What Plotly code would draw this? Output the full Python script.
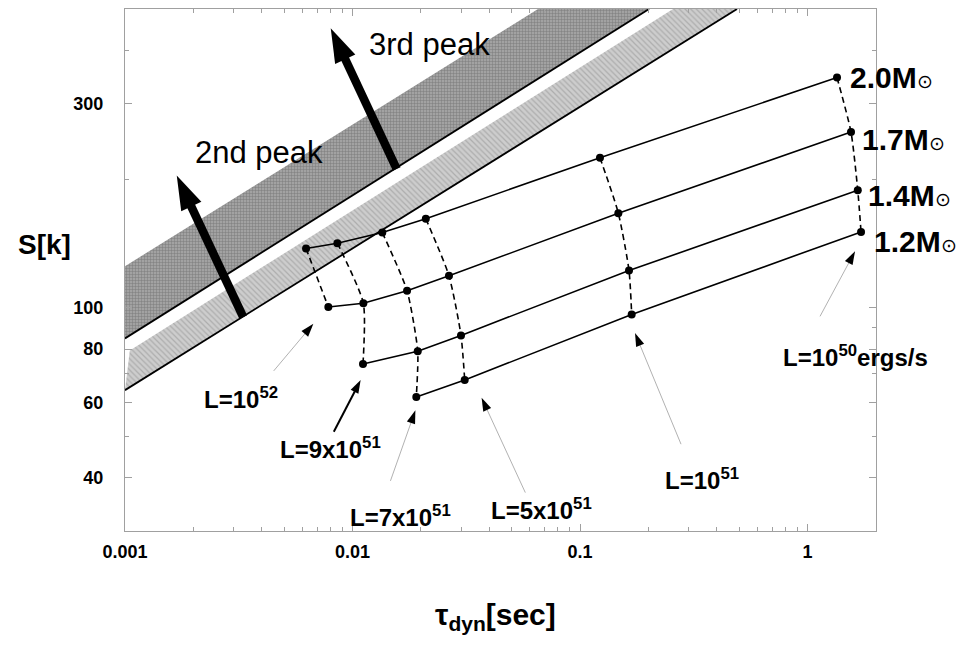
import math
import plotly.graph_objects as go

# ---------------- data ----------------
L_labels = ["L=10<sup>52</sup>", "L=9x10<sup>51</sup>", "L=7x10<sup>51</sup>",
            "L=5x10<sup>51</sup>", "L=10<sup>51</sup>", "L=10<sup>50</sup>ergs/s"]

mass_names = ["2.0M", "1.7M", "1.4M", "1.2M"]
# one entry per luminosity (None = no model)
tau_20 = [0.00625, 0.00858, 0.01352, 0.0210, 0.1224, 1.348]
S_20 = [137.5, 141.5, 149.9, 161.4, 224.4, 345.5]
tau_17 = [0.00783, 0.01116, 0.01737, 0.02655, 0.1474, 1.553]
S_17 = [100.3, 102.4, 109.5, 118.7, 166.3, 257.6]
tau_14 = [None, 0.01112, 0.01935, 0.02998, 0.1642, 1.663]
S_14 = [None, 73.8, 79.0, 86.1, 122.1, 188.2]
tau_12 = [None, None, 0.01907, 0.03113, 0.1687, 1.719]
S_12 = [None, None, 61.8, 67.7, 96.4, 150.4]

# shaded r-process regions (3rd peak = dark, 2nd peak = light)
band3_tau = [0.001, 0.0654, 0.2011, 0.001]
band3_S = [125.0, 500.0, 500.0, 84.7]
band2_tau = [0.00105, 0.2564, 0.49, 0.001]
band2_S = [79.4, 500.0, 500.0, 64.1]
edge3_tau = [0.001, 0.2011]
edge3_S = [84.7, 500.0]
edge2_tau = [0.001, 0.49]
edge2_S = [64.1, 500.0]

# pointer arrows for the luminosity labels: (tail, tip)
L_arrow_tail = [(0.004504, 71.1), (0.008275, 51.2), (0.01468, 39.3),
                (0.05749, 36.9), (0.278, 47.9), (1.135, 95.4)]
L_arrow_tip = [(0.00673, 91.7), (0.01086, 67.7), (0.0189, 57.5),
               (0.03694, 61.5), (0.1745, 87.2), (1.618, 135.5)]
# big arrows towards the abundance peaks: (tail, tip)
peak_arrow_tail = [(0.00331, 95.0), (0.01564, 211.1)]
peak_arrow_tip = [(0.001688, 203.7), (0.00802, 450.8)]

x_ticks = [0.001, 0.01, 0.1, 1]
x_ticktext = ["0.001", "0.01", "0.1", "1"]
y_ticks = [40, 60, 80, 100, 300]
y_ticktext = ["40", "60", "80", "100", "300"]

# ---------------- figure ----------------
FONT = "Liberation Sans, Arial, Helvetica, sans-serif"
fig = go.Figure()

fig.add_trace(go.Scatter(x=band3_tau, y=band3_S, mode="lines", fill="toself",
                         line=dict(width=0), fillcolor="#959595",
                         fillpattern=dict(shape="+", size=3, solidity=0.3,
                                          fgcolor="#7c7c7c", bgcolor="#a2a2a2",
                                          fillmode="replace"),
                         hoverinfo="skip", showlegend=False))
fig.add_trace(go.Scatter(x=band2_tau, y=band2_S, mode="lines", fill="toself",
                         line=dict(width=0), fillcolor="#c6c6c6",
                         fillpattern=dict(shape="\\", size=4, solidity=0.3,
                                          fgcolor="#adadad", bgcolor="#cdcdcd",
                                          fillmode="replace"),
                         hoverinfo="skip", showlegend=False))
for ex, ey in [(edge3_tau, edge3_S), (edge2_tau, edge2_S)]:
    fig.add_trace(go.Scatter(x=ex, y=ey, mode="lines",
                             line=dict(color="black", width=1.8),
                             hoverinfo="skip", showlegend=False))

masses = [(tau_20, S_20), (tau_17, S_17), (tau_14, S_14), (tau_12, S_12)]

# dashed constant-luminosity curves
for i in range(len(L_labels)):
    xs = [t[i] for t, s in masses if t[i] is not None]
    ys = [s[i] for t, s in masses if t[i] is not None]
    fig.add_trace(go.Scatter(x=xs, y=ys, mode="lines",
                             line=dict(color="black", width=1.6, dash="6px,4px",
                                       shape="spline", smoothing=0.6),
                             hoverinfo="skip", showlegend=False))

# solid constant-mass lines with points
for t, s in masses:
    xs = [a for a in t if a is not None]
    ys = [b for a, b in zip(t, s) if a is not None]
    fig.add_trace(go.Scatter(x=xs, y=ys, mode="lines+markers",
                             line=dict(color="black", width=1.6),
                             marker=dict(color="black", size=8),
                             showlegend=False))

# pointer arrows
for k, (tail, tip) in enumerate(zip(L_arrow_tail, L_arrow_tip)):
    bold = (k == 1)
    fig.add_trace(go.Scatter(
        x=[tail[0], tip[0]], y=[tail[1], tip[1]], mode="lines+markers",
        line=dict(color="black" if bold else "#a8a8a8", width=2 if bold else 0.9),
        marker=dict(symbol="arrow", size=14, angleref="previous", color="black",
                    line=dict(width=0)),
        hoverinfo="skip", showlegend=False))

for tail, tip in zip(peak_arrow_tail, peak_arrow_tip):
    fig.add_trace(go.Scatter(
        x=[tail[0], tip[0]], y=[tail[1], tip[1]], mode="lines+markers",
        line=dict(color="black", width=8.5),
        marker=dict(symbol="arrow", size=36, angleref="previous", color="black",
                    line=dict(width=0)),
        hoverinfo="skip", showlegend=False))

ann = []
lg = math.log10

# mass labels
mass_label_pos = [(1.507, 345), (1.701, 247), (1.807, 183), (1.92, 143)]
for name, (lx, ly) in zip(mass_names, mass_label_pos):
    ann.append(dict(x=lg(lx), y=lg(ly), xref="x", yref="y", xanchor="left",
                    yanchor="middle", showarrow=False,
                    text="<b>" + name + "</b><span style='font-size:19px'>⊙</span>",
                    font=dict(family=FONT, size=30, color="black")))

# luminosity labels
L_label_pos = [(0.003235, 61.5), (0.008043, 47.0), (0.01618, 32.6),
               (0.06741, 33.8), (0.3438, 39.8), (1.618, 77.0)]
for txt, (lx, ly) in zip(L_labels, L_label_pos):
    ann.append(dict(x=lg(lx), y=lg(ly), xref="x", yref="y", xanchor="center",
                    yanchor="middle", showarrow=False, text="<b>" + txt + "</b>",
                    font=dict(family=FONT, size=24, color="black")))

peak_text = [("2nd peak", 0.0039, 230.5), ("3rd peak", 0.02169, 412)]
for txt, lx, ly in peak_text:
    ann.append(dict(x=lg(lx), y=lg(ly), xref="x", yref="y", showarrow=False,
                    xanchor="center", yanchor="middle",
                    text=txt, font=dict(family=FONT, size=31, color="black")))

# axis titles (horizontal)
ann.append(dict(x=-0.107, y=0.548, xref="paper", yref="paper", showarrow=False,
                xanchor="center", yanchor="middle",
                text="<b>S[k]</b>", font=dict(family=FONT, size=28, color="black")))
ann.append(dict(x=0.494, y=-0.2026, xref="paper", yref="paper", showarrow=False,
                xanchor="center", yanchor="bottom",
                text="<b>τ<sub>dyn</sub>[sec]</b>",
                font=dict(family=FONT, size=30, color="black")))

axis_common = dict(showgrid=False, zeroline=False, showline=True,
                   linecolor="#a0a0a0", linewidth=1, mirror="ticks",
                   ticks="inside", ticklen=7, tickcolor="#a0a0a0", tickwidth=1)

fig.update_layout(
    width=956, height=645,
    margin=dict(l=125, r=80, t=9, b=114),
    plot_bgcolor="white", paper_bgcolor="white",
    annotations=ann,
    xaxis=dict(type="log", range=[lg(0.001), lg(2)], tickvals=x_ticks,
               ticktext=x_ticktext, ticklabelstandoff=4,
               tickfont=dict(family=FONT, size=18, color="black", weight="bold"),
               minor=dict(tickvals=[m * d for d in (0.001, 0.01, 0.1) for m in range(2, 10)] + [2],
                          ticks="inside", ticklen=4, tickcolor="#a0a0a0"),
               **axis_common),
    yaxis=dict(type="log", range=[lg(30), lg(500)], tickvals=y_ticks,
               ticktext=y_ticktext, ticklabelstandoff=17,
               tickfont=dict(family=FONT, size=18, color="black", weight="bold"),
               minor=dict(tickvals=[50, 70, 90, 200, 400],
                          ticks="inside", ticklen=4, tickcolor="#a0a0a0"),
               **axis_common),
)

fig.write_html("out.html", config={"displayModeBar": False},
               post_script="document.body.style.margin='0px';")
